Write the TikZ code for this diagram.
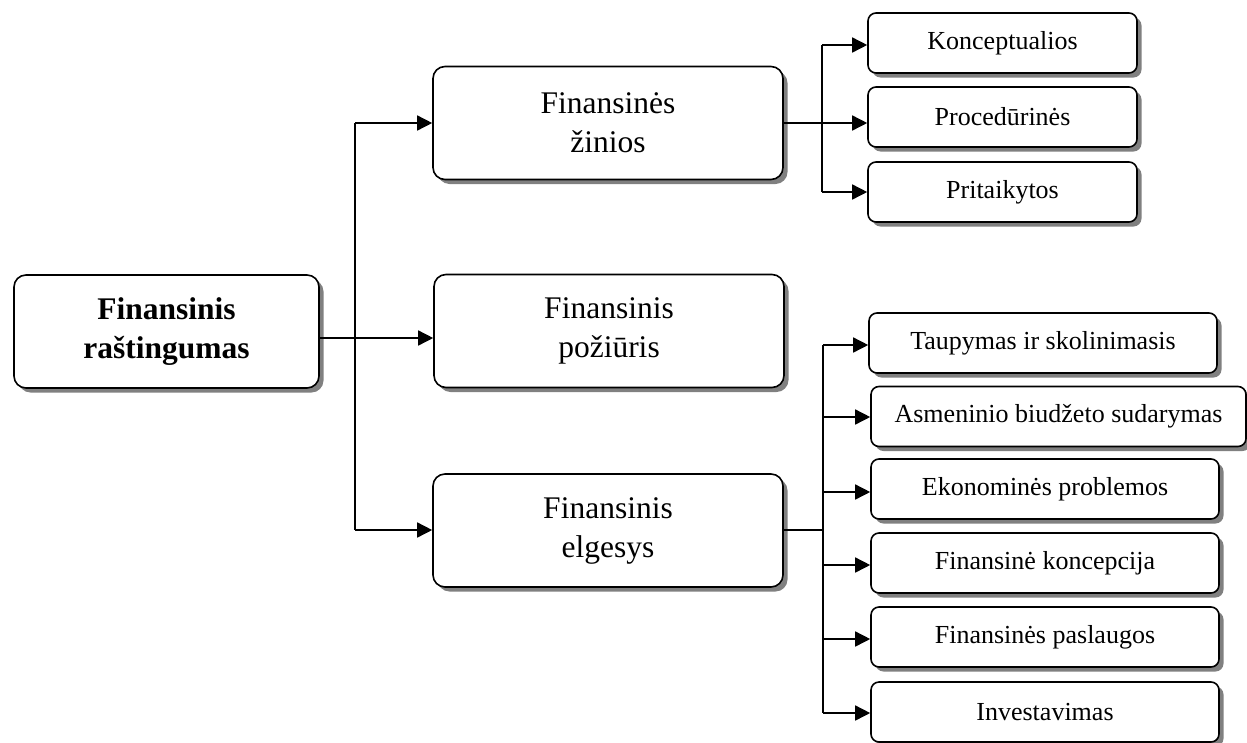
\documentclass[tikz,border=0pt]{standalone}
\usepackage{fontspec}
\setmainfont{Liberation Serif}
\usetikzlibrary{shadows,arrows.meta}
\begin{document}
\begin{tikzpicture}[x=1pt,y=-1pt,
  boxshadow/.style={drop shadow={shadow xshift=4.5pt,shadow yshift=-4.5pt,fill=black!50,opacity=1}},
  bigbox/.style={draw,line width=1.6pt,fill=white,rounded corners=12pt,boxshadow,
    inner sep=0pt,align=center,minimum width=350pt,minimum height=113pt,
    font=\fontsize{31.5}{39}\selectfont},
  smallbox/.style={draw,line width=1.6pt,fill=white,rounded corners=8pt,boxshadow,
    inner sep=0pt,align=center,minimum height=60pt,
    font=\fontsize{26}{31}\selectfont},
  conn/.style={line width=1.5pt},
  arr/.style={line width=1.5pt,-{Triangle[length=15pt,width=15pt]}}]
\useasboundingbox (0,0) rectangle (1247,742);

% root and the three main branches
\node[bigbox,minimum width=305pt,font=\fontsize{31.5}{39}\selectfont\bfseries] (root) at (166.5,331.5) {Finansinis\\raštingumas};
\node[bigbox] (ziniu) at (608,123) {Finansinės\\žinios};
\node[bigbox] (poziuris) at (609,331) {Finansinis\\požiūris};
\node[bigbox] (elgesys) at (608,530.5) {Finansinis\\elgesys};

% kinds of knowledge
\node[smallbox,minimum width=269pt] (konc) at (1002.5,43) {Konceptualios};
\node[smallbox,minimum width=269pt] (proc) at (1002.5,117) {Procedūrinės};
\node[smallbox,minimum width=269pt] (prit) at (1002.5,192) {Pritaikytos};

% areas of behaviour
\node[smallbox,minimum width=348pt] (taup) at (1043,343) {Taupymas ir skolinimasis};
\node[smallbox,minimum width=375pt] (biud) at (1058.5,416.5) {Asmeninio biudžeto sudarymas};
\node[smallbox,minimum width=348pt] (ekon) at (1045,489) {Ekonominės problemos};
\node[smallbox,minimum width=348pt] (fkon) at (1045,563) {Finansinė koncepcija};
\node[smallbox,minimum width=348pt] (pasl) at (1045,637) {Finansinės paslaugos};
\node[smallbox,minimum width=348pt] (inv) at (1045,712) {Investavimas};

% junction points
\coordinate (t0) at (355,338);
\coordinate (t1) at (355,123);
\coordinate (t2) at (355,530);
\coordinate (k0) at (822,123);
\coordinate (k1) at (822,45);
\coordinate (k3) at (822,192);
\coordinate (e0) at (823,530);
\coordinate (e1) at (823,345);
\coordinate (e6) at (823,713);

% trunk from the root
\draw[conn] (root.east |- t0) -- (t0);
\draw[conn] (t1) -- (t2);
\draw[arr] (t1) -- (ziniu.west |- t1);
\draw[arr] (t0) -- (poziuris.west |- t0);
\draw[arr] (t2) -- (elgesys.west |- t2);

% knowledge branch
\draw[conn] (ziniu.east |- k0) -- (k0);
\draw[conn] (k1) -- (k3);
\draw[arr] (k1) -- (konc.west |- k1);
\draw[arr] (k0) -- (proc.west |- k0);
\draw[arr] (k3) -- (prit.west |- k3);

% behaviour branch
\draw[conn] (elgesys.east |- e0) -- (e0);
\draw[conn] (e1) -- (e6);
\draw[arr] (e1) -- (taup.west |- e1);
\draw[arr] (e1 |- 0,417) -- (biud.west |- 0,417);
\draw[arr] (e1 |- 0,492) -- (ekon.west |- 0,492);
\draw[arr] (e1 |- 0,565) -- (fkon.west |- 0,565);
\draw[arr] (e1 |- 0,639) -- (pasl.west |- 0,639);
\draw[arr] (e6) -- (inv.west |- e6);
\end{tikzpicture}
\end{document}
